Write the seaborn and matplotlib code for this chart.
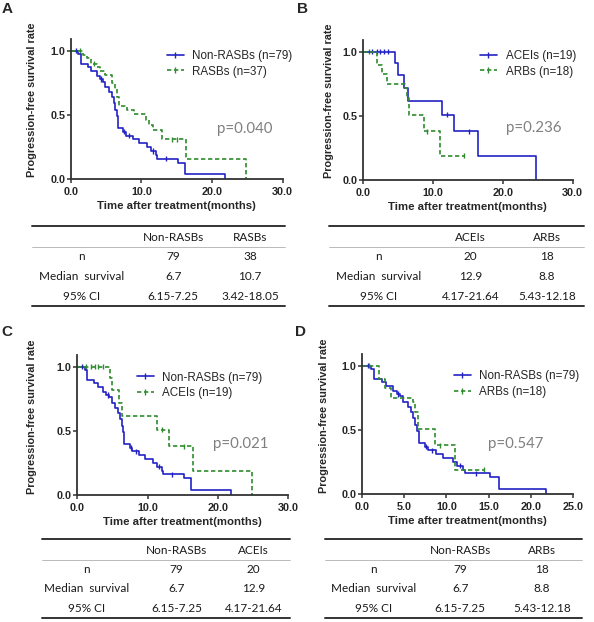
import numpy as np
import pandas as pd
import seaborn as sns
import matplotlib.pyplot as plt
from matplotlib.lines import Line2D

# curvas Kaplan-Meier (meses, tasa de supervivencia)
nonrasb_t = [0, 1.1, 1.45, 2.4, 2.9, 3.7, 4.1, 4.5, 4.9, 5.4, 5.8, 6.1, 6.3, 6.5, 6.7,
             7.45, 7.8, 8.8, 9.6, 10.8, 11.3, 12.0, 12.2, 15.2, 16.2, 21.8]
nonrasb_s = [1.0, 0.975, 0.90, 0.87, 0.84, 0.80, 0.78, 0.76, 0.72, 0.68, 0.64, 0.59, 0.54, 0.49, 0.40,
             0.37, 0.34, 0.31, 0.28, 0.25, 0.22, 0.19, 0.16, 0.13, 0.04, 0.0]
nonrasb_cens = [0.7, 4.3, 7.6, 8.3, 11.6, 13.5]

rasb_t = [0, 1.8, 2.3, 2.9, 3.7, 4.2, 4.8, 5.9, 6.2, 6.5, 6.9, 8.0, 8.9, 10.7, 11.1, 11.7, 12.9, 16.3, 24.8]
rasb_s = [1.0, 0.97, 0.94, 0.90, 0.87, 0.84, 0.81, 0.75, 0.70, 0.64, 0.57, 0.54, 0.51, 0.46, 0.42, 0.38,
          0.31, 0.155, 0.0]
rasb_cens = [1.3, 3.3, 14.3, 15.0]

acei_t = [0, 4.6, 5.0, 5.9, 6.4, 11.3, 13.0, 16.5, 24.8]
acei_s = [1.0, 0.91, 0.82, 0.72, 0.615, 0.51, 0.38, 0.19, 0.0]
acei_cens = [1.3, 2.0, 2.5, 3.0, 3.6, 12.0, 15.2]

arb_t = [0, 2.0, 2.7, 3.4, 6.0, 6.3, 6.6, 8.7, 11.0, 14.4]
arb_s = [1.0, 0.90, 0.83, 0.75, 0.72, 0.64, 0.51, 0.38, 0.19, 0.19]
arb_cens = [0.8, 9.2, 14.4]

# tablas
row_labels = ['n', 'Median  survival', '95% CI']
tab_A = [['Non-RASBs', 'RASBs'], ['79', '38'], ['6.7', '10.7'], ['6.15-7.25', '3.42-18.05']]
tab_B = [['ACEIs', 'ARBs'], ['20', '18'], ['12.9', '8.8'], ['4.17-21.64', '5.43-12.18']]
tab_C = [['Non-RASBs', 'ACEIs'], ['79', '20'], ['6.7', '12.9'], ['6.15-7.25', '4.17-21.64']]
tab_D = [['Non-RASBs', 'ARBs'], ['79', '18'], ['6.7', '8.8'], ['6.15-7.25', '5.43-12.18']]

W, H = 594, 622
BLUE = '#2222c4'
GREEN = '#2e8b2e'

sns.set_style('ticks')
plt.rcParams['font.family'] = ['Liberation Sans', 'DejaVu Sans']

fig = plt.figure(figsize=(W / 100, H / 100), dpi=100)


def fx(x):
    return x / W


def fy(y):
    return 1 - y / H


def km_panel(box, groups, xmax, xstep, leg_xy, pval, pval_xy, ylab_xy, xlab_y):
    left, right, y0, unit = box
    ax = fig.add_axes([fx(left), fy(y0), (right - left) / W, 1.09 * unit / H])
    dfs, cens = [], []
    for name, t, s, c, color, dashed in groups:
        dfs.append(pd.DataFrame({'mes': t, 'tasa': s, 'grupo': name}))
        idx = np.searchsorted(t, c, side='right') - 1
        cens.append(pd.DataFrame({'mes': c, 'tasa': np.array(s)[idx], 'grupo': name}))
    df = pd.concat(dfs)
    dfc = pd.concat(cens)
    pal = {g[0]: g[4] for g in groups}
    dashes = {g[0]: ((2.6, 1.6) if g[5] else '') for g in groups}
    sns.lineplot(data=df, x='mes', y='tasa', hue='grupo', style='grupo', palette=pal, dashes=dashes,
                 drawstyle='steps-post', estimator=None, sort=False, legend=False, lw=1.2, ax=ax)
    sns.scatterplot(data=dfc, x='mes', y='tasa', hue='grupo', palette=pal, marker='|', s=14,
                    linewidth=1, legend=False, ax=ax)

    ax.set_xlim(0, xmax)
    ax.set_ylim(0, 1.09)
    xt = np.arange(0, xmax + 0.1, xstep)
    ax.set_xticks(xt)
    ax.set_xticklabels(['%.1f' % v for v in xt], fontsize=7.8, fontweight='bold')
    ax.set_yticks([0, 0.5, 1.0])
    ax.set_yticklabels(['0.0', '0.5', '1.0'], fontsize=7.8, fontweight='bold')
    ax.tick_params(axis='x', length=2.6, width=1.1, pad=3, color='#333333')
    ax.tick_params(axis='y', length=3, width=1.1, pad=1, color='#333333')
    sns.despine(ax=ax)
    for sp in ['left', 'bottom']:
        ax.spines[sp].set_linewidth(1.3)
        ax.spines[sp].set_color('#333333')
    ax.set_facecolor('white')

    ax.set_xlabel('Time after treatment(months)', fontsize=8.2, fontweight='bold')
    ax.xaxis.set_label_coords(fx((left + right) / 2), fy(xlab_y - 5.5), transform=fig.transFigure)
    ax.set_ylabel('Progression-free survival rate', fontsize=7.8, fontweight='bold')
    ax.yaxis.set_label_coords(fx(ylab_xy[0] + 5), fy(ylab_xy[1]), transform=fig.transFigure)

    handles = [Line2D([], [], color=g[4], lw=1.2, marker='|', markersize=4,
                      dashes=(2.6, 1.6) if g[5] else (None, None)) for g in groups]
    ax.legend(handles, [g[0] for g in groups], loc='upper left',
              bbox_to_anchor=(fx(leg_xy[0]), fy(leg_xy[1])), bbox_transform=fig.transFigure,
              frameon=False, fontsize=8.4, handlelength=1.45, handletextpad=0.75,
              labelspacing=0.3, borderpad=0, borderaxespad=0)
    fig.text(fx(pval_xy[0]), fy(pval_xy[1]), pval, fontsize=10.8, color='#808080',
             family='Lato', ha='center', va='center')
    return ax


def table(lines_y, rows_y, xs, cols, data):
    top, thin, bottom = lines_y
    x0, x1 = xs
    fig.add_artist(Line2D([fx(x0), fx(x1)], [fy(top), fy(top)], color='#333333', lw=1.4))
    fig.add_artist(Line2D([fx(x0), fx(x1)], [fy(thin), fy(thin)], color='#b0b0b0', lw=0.6))
    fig.add_artist(Line2D([fx(x0), fx(x1)], [fy(bottom), fy(bottom)], color='#333333', lw=1.4))
    labels = [''] + row_labels
    for r, (yy, lab) in enumerate(zip(rows_y, labels)):
        vals = [lab] + data[r]
        for cx, v in zip(cols, vals):
            fig.text(fx(cx), fy(yy), v, fontsize=8.5, family='Lato', color='#1a1a1a',
                     ha='center', va='center')


km_panel((70.7, 282.7, 179.3, 128.6),
         [('Non-RASBs (n=79)', nonrasb_t, nonrasb_s, nonrasb_cens, BLUE, False),
          ('RASBs (n=37)', rasb_t, rasb_s, rasb_cens, GREEN, True)],
         30, 10, (166.7, 50), 'p=0.040', (244.7, 128.7), (31.7, 100), 206.7)
km_panel((363, 572.7, 180, 128.3),
         [('ACEIs (n=19)', acei_t, acei_s, acei_cens, BLUE, False),
          ('ARBs (n=18)', arb_t, arb_s, arb_cens, GREEN, True)],
         30, 10, (480, 50), 'p=0.236', (533.7, 128.3), (328.7, 101), 207.7)
km_panel((77.3, 288.3, 495, 128.3),
         [('Non-RASBs (n=79)', nonrasb_t, nonrasb_s, nonrasb_cens, BLUE, False),
          ('ACEIs (n=19)', acei_t, acei_s, acei_cens, GREEN, True)],
         30, 10, (136.7, 371.5), 'p=0.021', (240.7, 444), (31.7, 417), 522.7)
km_panel((362, 573, 494, 128.3),
         [('Non-RASBs (n=79)', nonrasb_t, nonrasb_s, nonrasb_cens, BLUE, False),
          ('ARBs (n=18)', arb_t, arb_s, arb_cens, GREEN, True)],
         25, 5, (453.7, 370.5), 'p=0.547', (516, 444), (323.7, 416), 521.7)

table((226, 247, 306), (237, 257, 277, 296.5), (31.7, 285), (81.7, 173.3, 250), tab_A)
table((226, 247, 306), (237, 257, 277, 296.5), (328.7, 583.7), (378.7, 470.3, 547), tab_B)
table((539, 560, 618), (550.5, 569.5, 589, 608), (41.7, 290), (86.7, 176.7, 253.3), tab_C)
table((539, 560, 618), (550.5, 569.5, 589, 608), (325.3, 582), (373.7, 460.3, 542), tab_D)

for letter, (x, y) in zip('ABCD', [(7.5, 9), (302, 9), (7, 332), (301, 332)]):
    fig.text(fx(x), fy(y), letter, fontsize=11, fontweight='bold', ha='center', va='center')

fig.savefig('out.png', dpi=100, facecolor='white')
